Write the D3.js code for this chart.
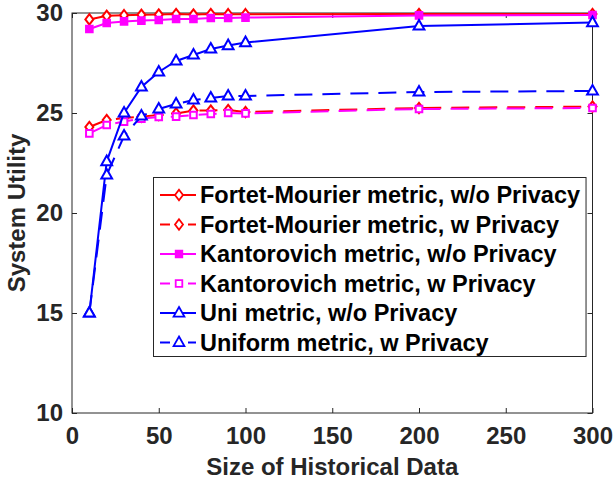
<!DOCTYPE html>
<html><head><meta charset="utf-8">
<script src="https://cdn.jsdelivr.net/npm/d3@7"></script>
<style>body{margin:0;background:#fff}</style>
</head><body>
<svg id="c" width="613" height="480"></svg>
<script>
const xVals = [10,20,30,40,50,60,70,80,90,100,200,300];
const fmNoPriv = [29.68,29.86,29.89,29.91,29.92,29.95,29.92,29.95,29.94,29.94,29.95,29.95];
const fmPriv   = [24.3,24.65,24.75,24.82,24.9,24.98,25.12,25.12,25.15,25.05,25.25,25.32];
const kNoPriv  = [29.2,29.5,29.58,29.62,29.65,29.7,29.7,29.75,29.75,29.77,29.88,29.9];
const kPriv    = [23.98,24.4,24.57,24.72,24.8,24.82,24.9,24.95,25.0,24.98,25.2,25.25];
const uniNoPriv= [15.0,22.57,25.0,26.3,27.05,27.6,27.9,28.2,28.37,28.52,29.35,29.52];
const uniPriv  = [15.0,21.9,23.85,24.85,25.2,25.45,25.65,25.75,25.85,25.85,26.05,26.1];
const seriesNames = ["Fortet-Mourier metric, w/o Privacy","Fortet-Mourier metric, w Privacy",
  "Kantorovich metric, w/o Privacy","Kantorovich metric, w Privacy",
  "Uni metric, w/o Privacy","Uniform metric, w Privacy"];
const xTicks = [0,50,100,150,200,250,300];
const yTicks = [10,15,20,25,30];
const xLabel = "Size of Historical Data";
const yLabel = "System Utility";

const series = [
  {name:seriesNames[0], v:fmNoPriv, color:"#ff0000", dash:null, marker:"diamond", fill:"#fff"},
  {name:seriesNames[1], v:fmPriv, color:"#ff0000", dash:"18,10", marker:"diamond", fill:"#fff"},
  {name:seriesNames[2], v:kNoPriv, color:"#ff00ff", dash:null, marker:"square", fill:"#ff00ff"},
  {name:seriesNames[3], v:kPriv, color:"#ff00ff", dash:"18,10", marker:"square", fill:"#fff"},
  {name:seriesNames[4], v:uniNoPriv, color:"#0000ff", dash:null, marker:"triangle", fill:"#fff"},
  {name:seriesNames[5], v:uniPriv, color:"#0000ff", dash:"18,10", marker:"triangle", fill:"#fff"}
];

const L=72, R=592.5, T=13, B=413;
const svg = d3.select("#c");
const x = d3.scaleLinear().domain([0,300]).range([L,R]);
const y = d3.scaleLinear().domain([10,30]).range([B,T]);
const axCol = "#262626";
const font = "'Liberation Sans', Arial, Helvetica, sans-serif";

function markerPath(type){
  if(type==="diamond") return "M0,-5.2L4,0L0,5.2L-4,0Z";
  if(type==="square") return "M-3.3,-3.3H3.3V3.3H-3.3Z";
  return "M0,-6L5.4,3.6L-5.4,3.6Z";
}

const g = svg.append("g");
g.append("rect").attr("x",L).attr("y",T).attr("width",R-L).attr("height",B-T)
  .attr("fill","none").attr("stroke",axCol).attr("stroke-width",1);

const xAxB = d3.axisBottom(x).tickValues(xTicks).tickSize(-5).tickPadding(14).tickFormat(d3.format("d"));
const xAxT = d3.axisTop(x).tickValues(xTicks).tickSize(-5).tickFormat("");
const yAxL = d3.axisLeft(y).tickValues(yTicks).tickSize(-5).tickPadding(9).tickFormat(d3.format("d"));
const yAxR = d3.axisRight(y).tickValues(yTicks).tickSize(-5).tickFormat("");
function styleAx(sel){
  sel.select(".domain").remove();
  sel.selectAll("line").attr("stroke",axCol);
  sel.selectAll("text").attr("fill",axCol).attr("font-family",font).attr("font-weight","bold").attr("font-size",24);
}
g.append("g").attr("transform",`translate(0,${B})`).call(xAxB).call(styleAx);
g.append("g").attr("transform",`translate(0,${T})`).call(xAxT).call(styleAx);
g.append("g").attr("transform",`translate(${L},0)`).call(yAxL).call(styleAx);
g.append("g").attr("transform",`translate(${R},0)`).call(yAxR).call(styleAx);

svg.append("text").attr("x",(L+R)/2).attr("y",474.5).attr("text-anchor","middle")
  .attr("font-family",font).attr("font-weight","bold").attr("font-size",24).attr("fill",axCol).text(xLabel);
svg.append("text").attr("transform",`translate(25,${(T+B)/2}) rotate(-90)`).attr("text-anchor","middle")
  .attr("font-family",font).attr("font-weight","bold").attr("font-size",24).attr("fill",axCol).text(yLabel);

const line = d3.line().x((d,i)=>x(xVals[i])).y(d=>y(d));
series.forEach(s=>{
  const sg = svg.append("g");
  sg.append("path").attr("d",line(s.v)).attr("fill","none").attr("stroke",s.color)
    .attr("stroke-width",2).attr("stroke-dasharray",s.dash);
  sg.selectAll("path.m").data(s.v).enter().append("path").attr("class","m")
    .attr("transform",(d,i)=>`translate(${x(xVals[i])},${y(d)})`)
    .attr("d",markerPath(s.marker)).attr("fill",s.fill).attr("stroke",s.color).attr("stroke-width",2);
});

const lg = svg.append("g");
const box = lg.append("rect").attr("x",153.5).attr("y",177.5).attr("height",179)
  .attr("fill","#fff").attr("stroke",axCol).attr("stroke-width",1);
let maxW = 0;
series.forEach((s,i)=>{
  const cy = 195 + i*29.5;
  const r = lg.append("g");
  if(s.dash){
    r.append("line").attr("x1",160).attr("x2",170).attr("y1",cy).attr("y2",cy).attr("stroke",s.color).attr("stroke-width",2);
    r.append("line").attr("x1",188).attr("x2",196).attr("y1",cy).attr("y2",cy).attr("stroke",s.color).attr("stroke-width",2);
  } else {
    r.append("line").attr("x1",160).attr("x2",196).attr("y1",cy).attr("y2",cy).attr("stroke",s.color).attr("stroke-width",2);
  }
  r.append("path").attr("transform",`translate(179,${cy})`).attr("d",markerPath(s.marker))
    .attr("fill",s.fill).attr("stroke",s.color).attr("stroke-width",1.8);
  const t = r.append("text").attr("x",200).attr("y",cy+8.3).attr("font-family",font).attr("font-weight","bold")
    .attr("font-size",23.5).attr("fill","#000").text(s.name);
  maxW = Math.max(maxW, t.node().getComputedTextLength());
});
box.attr("width", Math.min(200 + maxW + 6 - 153.5, R - 2 - 153.5));
</script>
</body></html>
